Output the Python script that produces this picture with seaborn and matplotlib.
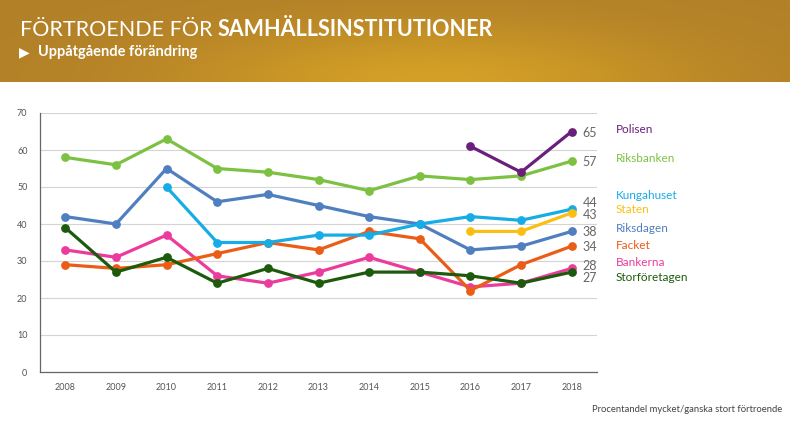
import numpy as np
import pandas as pd
import matplotlib
matplotlib.use("Agg")
import matplotlib.pyplot as plt
import seaborn as sns

# Data (percent with high/fairly high trust)
years = [2008, 2009, 2010, 2011, 2012, 2013, 2014, 2015, 2016, 2017, 2018]
polisen = [None, None, None, None, None, None, None, None, 61, 54, 65]
riksbanken = [58, 56, 63, 55, 54, 52, 49, 53, 52, 53, 57]
kungahuset = [None, None, 50, 35, 35, 37, 37, 40, 42, 41, 44]
staten = [None, None, None, None, None, None, None, None, 38, 38, 43]
riksdagen = [42, 40, 55, 46, 48, 45, 42, 40, 33, 34, 38]
facket = [29, 28, 29, 32, 35, 33, 38, 36, 22, 29, 34]
bankerna = [33, 31, 37, 26, 24, 27, 31, 27, 23, 24, 28]
storforetagen = [39, 27, 31, 24, 28, 24, 27, 27, 26, 24, 27]

series = {
    "Bankerna": bankerna,
    "Facket": facket,
    "Storföretagen": storforetagen,
    "Riksdagen": riksdagen,
    "Kungahuset": kungahuset,
    "Staten": staten,
    "Riksbanken": riksbanken,
    "Polisen": polisen,
}
colors = {
    "Polisen": "#6b1f7c",
    "Riksbanken": "#7cc142",
    "Kungahuset": "#16ace6",
    "Staten": "#fbbf14",
    "Riksdagen": "#4f7fbf",
    "Facket": "#ea5d17",
    "Bankerna": "#ec3b9c",
    "Storföretagen": "#1c5a0c",
}
# labels on the right side (value text y, name y)
label_order = ["Polisen", "Riksbanken", "Kungahuset", "Staten",
               "Riksdagen", "Facket", "Bankerna", "Storföretagen"]
value_y = [64.6, 56.8, 45.6, 42.4, 37.9, 33.8, 28.7, 25.3]
name_y = [65.5, 57.8, 47.6, 43.8, 38.9, 34.3, 29.5, 25.6]

rows = []
for name, vals in series.items():
    for y, v in zip(years, vals):
        if v is not None:
            rows.append({"year": y, "value": v, "series": name})
df = pd.DataFrame(rows)

sns.set_style("white")
plt.rcParams["font.family"] = ["Lato", "DejaVu Sans"]

fig = plt.figure(figsize=(7.9, 4.28), dpi=100)

# gold header band
hdr = fig.add_axes([0, 1 - 82 / 428, 1, 82 / 428])
xx = np.linspace(0, 1, 400)
yy = np.linspace(0, 1, 60)
X, Y = np.meshgrid(xx, yy)
glow = np.exp(-((X - 0.55) ** 2) / 0.10 - ((Y - 1.0) ** 2) / 0.5)
c_dark = np.array([178, 128, 40]) / 255
c_light = np.array([212, 160, 38]) / 255
img = c_dark[None, None, :] + (c_light - c_dark)[None, None, :] * glow[:, :, None]
hdr.imshow(img, aspect="auto", extent=[0, 1, 0, 1])
hdr.set_axis_off()

t1 = fig.text(20 / 790, 1 - 36 / 428, "FÖRTROENDE FÖR ", color="white",
              fontsize=15.5, fontweight="normal")
fig.canvas.draw()
bb = t1.get_window_extent(fig.canvas.get_renderer())
fig.text(bb.x1 / fig.bbox.width, 1 - 36 / 428, "SAMHÄLLSINSTITUTIONER",
         color="white", fontsize=15.5, fontweight="bold")
fig.text(19 / 790, 1 - 56 / 428, "▶", color="white", fontsize=10,
         family=["DejaVu Sans"])
fig.text(38 / 790, 1 - 56 / 428, "Uppåtgående förändring", color="white",
         fontsize=10.5, fontweight="bold")

# main chart
ax = fig.add_axes([40 / 790, 1 - 372 / 428, 557 / 790, 259 / 428])
sns.lineplot(data=df, x="year", y="value", hue="series", palette=colors,
             hue_order=list(series.keys()), marker="o", markersize=6.3,
             markeredgewidth=0, linewidth=2.3, legend=False, ax=ax,
             estimator=None, sort=True)

ax.set_xlim(2007.5, 2018.5)
ax.set_ylim(0, 70)
ax.set_yticks(range(0, 71, 10))
ax.grid(axis="y", color="#d4d4d4", linewidth=0.8)
ax.set_axisbelow(True)
ax.set_xticks(years)
ax.set_xticklabels([str(y) for y in years])
ax.set_xticks(np.arange(2007.5, 2018.6, 1), minor=True)
ax.tick_params(axis="x", which="major", length=0, labelsize=6.5,
               labelcolor="#555555", pad=8)
ax.tick_params(axis="x", which="minor", length=4, color="#666666",
               direction="out", width=0.8)
ax.tick_params(axis="y", length=0, labelsize=6.5, labelcolor="#555555", pad=9)
ax.set_xlabel("")
ax.set_ylabel("")
for s in ["top", "right"]:
    ax.spines[s].set_visible(False)
for s in ["left", "bottom"]:
    ax.spines[s].set_color("#666666")
    ax.spines[s].set_linewidth(0.9)

for name, vy, ny in zip(label_order, value_y, name_y):
    last = series[name][-1]
    ax.text(2018.36, vy, str(last), color="#666666", fontsize=9,
            va="center", ha="center", clip_on=False)
    ax.text(2018.87, ny, name, color=colors[name], fontsize=8.5,
            va="center", ha="left", clip_on=False)

fig.text(782 / 790, 1 - 409 / 428, "Procentandel mycket/ganska stort förtroende",
         color="#444444", fontsize=6.8, ha="right", va="center")

fig.savefig("out.png", dpi=100)
